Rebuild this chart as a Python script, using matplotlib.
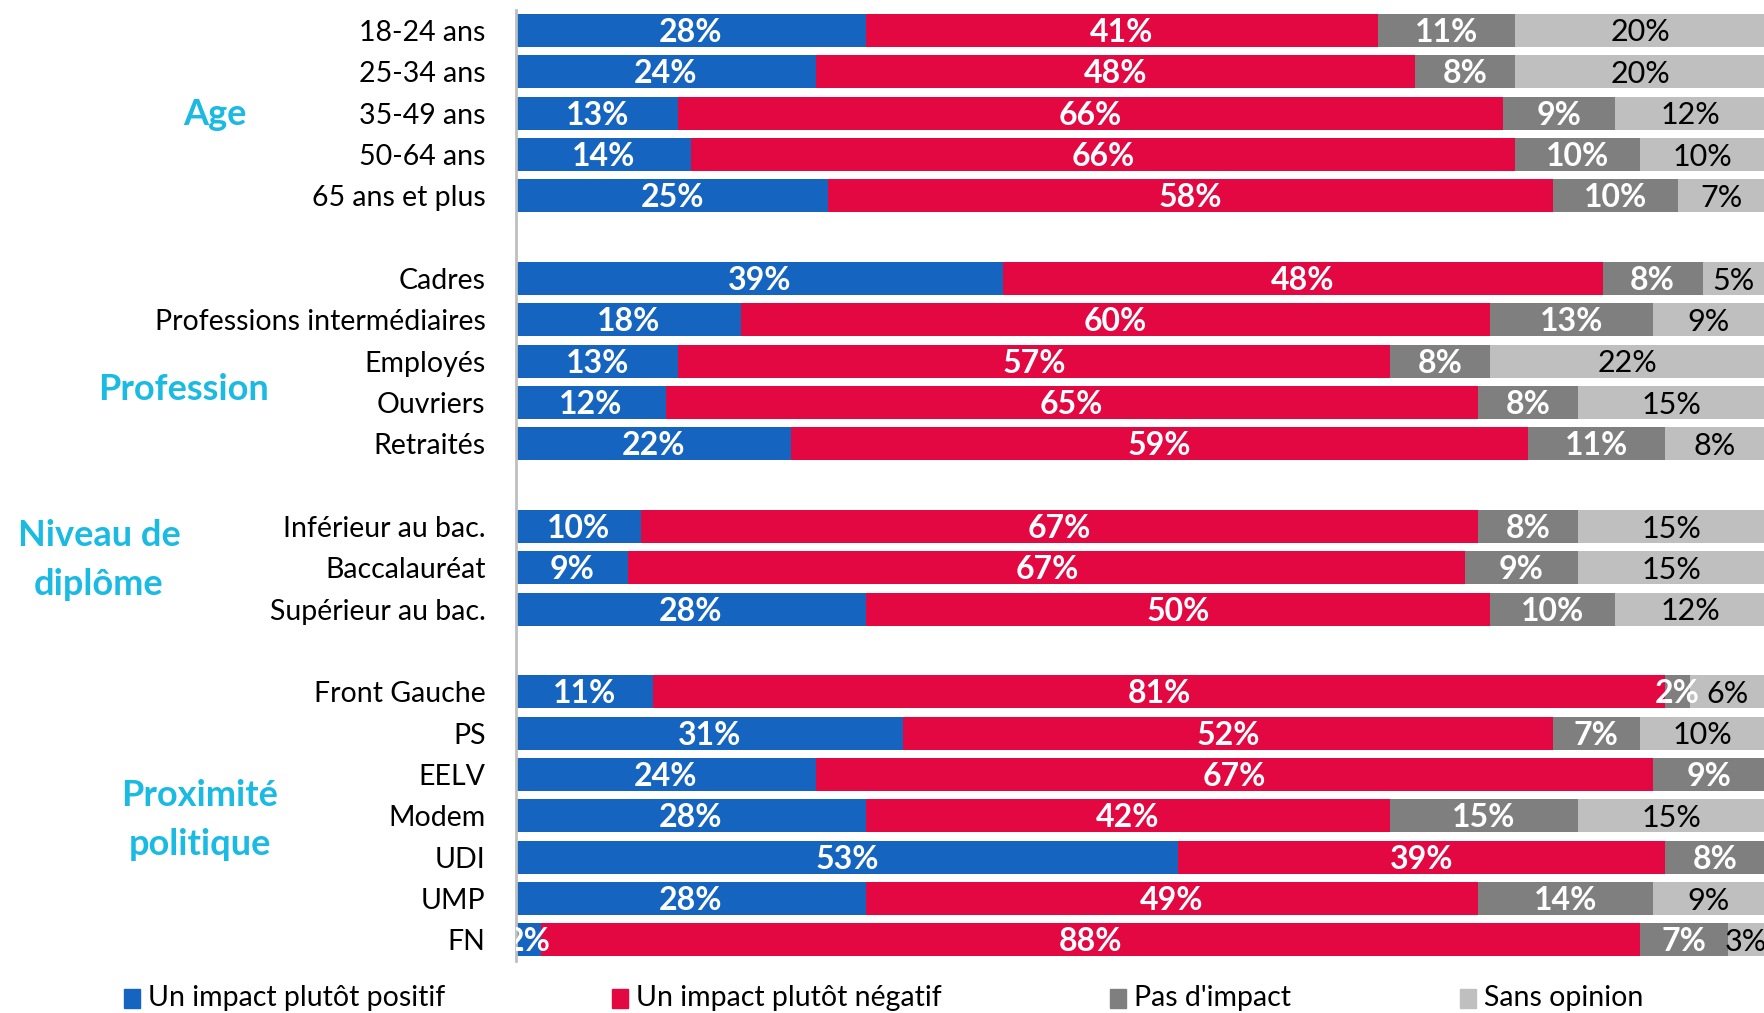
import numpy as np
import matplotlib.pyplot as plt
from matplotlib.patches import Rectangle

plt.rcParams['font.family'] = ['Lato', 'DejaVu Sans']

# données
groups = ["Age", "Profession", "Niveau de\ndiplôme", "Proximité\npolitique"]
categories = [
    ["18-24 ans", "25-34 ans", "35-49 ans", "50-64 ans", "65 ans et plus"],
    ["Cadres", "Professions intermédiaires", "Employés", "Ouvriers", "Retraités"],
    ["Inférieur au bac.", "Baccalauréat", "Supérieur au bac."],
    ["Front Gauche", "PS", "EELV", "Modem", "UDI", "UMP", "FN"],
]
positif = [28, 24, 13, 14, 25, 39, 18, 13, 12, 22, 10, 9, 28, 11, 31, 24, 28, 53, 28, 2]
negatif = [41, 48, 66, 66, 58, 48, 60, 57, 65, 59, 67, 67, 50, 81, 52, 67, 42, 39, 49, 88]
pas_impact = [11, 8, 9, 10, 10, 8, 13, 8, 8, 11, 8, 9, 10, 2, 7, 9, 15, 8, 14, 7]
sans_opinion = [20, 20, 12, 10, 7, 5, 9, 22, 15, 8, 15, 15, 12, 6, 10, 0, 15, 0, 9, 3]

series_names = ["Un impact plutôt positif", "Un impact plutôt négatif",
                "Pas d'impact", "Sans opinion"]
colors = ["#1565C0", "#E30842", "#7F7F7F", "#BFBFBF"]
text_colors = ["white", "white", "white", "black"]
text_weights = ["bold", "bold", "bold", "normal"]
group_color = "#1BBAE3"

# positions des lignes (une ligne vide entre groupes)
ypos = []
labels = []
y = 0
for cats in categories:
    for c in cats:
        ypos.append(y)
        labels.append(c)
        y += 1
    y += 1
ypos = np.array(ypos)

W, H = 1765, 1013
fig = plt.figure(figsize=(W / 100, H / 100), dpi=100)
ax = fig.add_axes([516 / W, 1 - 960.6 / H, 1 - 516 / W, (960.6 - 9.75) / H])

data = [positif, negatif, pas_impact, sans_opinion]
left = np.zeros(len(ypos))
for vals, col, tc, tw in zip(data, colors, text_colors, text_weights):
    vals = np.array(vals, dtype=float)
    ax.barh(ypos, vals, left=left, height=0.8, color=col, linewidth=0)
    for yy, l, v in zip(ypos, left, vals):
        if v > 0:
            ax.text(l + v / 2, yy + 0.05, f"{int(v)}%", ha="center", va="center",
                    color=tc, fontweight=tw, fontsize=23 if tw == "bold" else 22,
                    clip_on=True)
    left += vals

ax.set_xlim(0, 100)
ax.set_ylim(ypos[-1] + 0.5, -0.5)
ax.set_yticks(ypos, labels, fontsize=20.5)
ax.tick_params(axis="y", length=0, pad=22)
ax.set_xticks([])
for s in ["top", "right", "bottom"]:
    ax.spines[s].set_visible(False)
ax.spines["left"].set_color("#BFBFBF")
ax.spines["left"].set_linewidth(2)

# libellés de groupes (centre en pixels)
group_x = [215, 184, 99, 200]
group_y = [114, 389, 560, 820]
for g, gx, gy in zip(groups, group_x, group_y):
    fig.text(gx / W, 1 - gy / H, g, ha="center", va="center", fontsize=26,
             fontweight="bold", color=group_color, linespacing=1.6)

# légende
leg_x = [124, 612, 1110, 1460]
for name, col, lx in zip(series_names, colors, leg_x):
    fig.patches.append(Rectangle((lx / W, 1 - 1008 / H), 16 / W, 19 / H,
                                 transform=fig.transFigure, color=col))
    fig.text((lx + 24) / W, 1 - 998 / H, name, ha="left", va="center",
             fontsize=20.5)

fig.savefig("out.png", dpi=100)
